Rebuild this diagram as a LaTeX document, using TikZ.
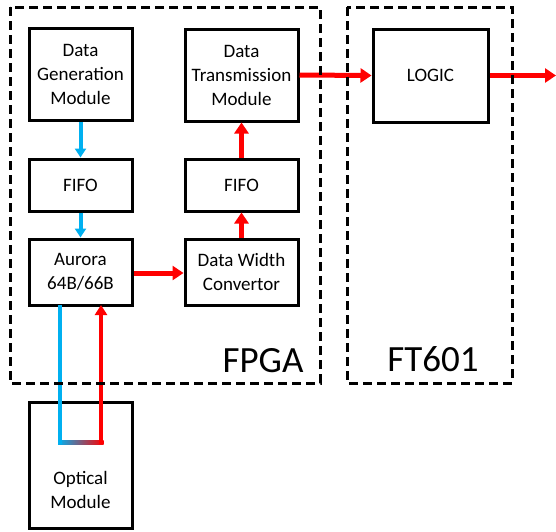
\documentclass[tikz,border=0pt]{standalone}
\usepackage{fontspec}
\setmainfont{Carlito}
\usetikzlibrary{arrows.meta,positioning,calc}

\definecolor{linkblue}{RGB}{0,176,240}
\definecolor{linkred}{RGB}{255,0,0}

\begin{document}
\begin{tikzpicture}[x=1pt, y=-1pt,
  block/.style={draw, line width=3pt, rectangle, align=center, inner sep=0pt,
    font=\fontsize{19}{24}\selectfont},
  region/.style={draw, line width=3pt, dash pattern=on 9pt off 5pt},
  bluelink/.style={linkblue, line width=4pt, -{Triangle[length=9pt,width=11pt]}},
  redlink/.style={linkred, line width=5pt, -{Triangle[length=11pt,width=14pt]}},
  biglabel/.style={font=\fontsize{37}{40}\selectfont, anchor=base}]

\useasboundingbox (0,0) rectangle (556,531);

% FPGA blocks
\node[block, minimum width=103pt, minimum height=92pt] (gen) at (80.5, 74.5) {Data\\Generation\\Module};
\node[block, minimum width=113pt, minimum height=92pt] (trans) at (241.5, 75) {Data\\Transmission\\Module};
\node[block, minimum width=103pt, minimum height=52pt] (fifoL) at (80.5, 185) {FIFO};
\node[block, minimum width=113pt, minimum height=52pt] (fifoR) at (241.5, 185) {FIFO};
\node[block, minimum width=103pt, minimum height=66pt] (aurora) at (80.5, 272) {Aurora\\64B/66B};
\node[block, minimum width=113pt, minimum height=66pt] (dwc) at (241.5, 272) {Data Width\\Convertor};

% FT601 block
\node[block, minimum width=115pt, minimum height=93pt] (logic) at (430.5, 75.5) {LOGIC};

% optical module, text sits low in the box
\node[block, minimum width=103pt, minimum height=126pt] (optical) at (80.5, 465) {};
\node[font=\fontsize{19}{24}\selectfont, align=center] (optlabel) at (80.5, 490) {Optical\\Module};

% data path
\draw[bluelink] (gen.south) -- (fifoL.north);
\draw[bluelink] (fifoL.south) -- (aurora.north);
\draw[redlink] (aurora.east |- 0,273) -- (dwc.west |- 0,273);
\draw[redlink] (dwc.north) -- (fifoR.south);
\draw[redlink] (fifoR.north) -- (trans.south);
\draw[redlink] (trans.east) -- (logic.west);
\coordinate (outend) at (556, 75.5);
\draw[redlink] (logic.east) -- (outend);

% loop through the optical module
\coordinate (txtop) at (60, 305);
\coordinate (txbot) at (60, 442);
\coordinate (rxbot) at (101, 442);
\coordinate (rxtop) at (101, 305);
\shade[left color=linkblue, right color=linkred] ($(txbot)+(-2,-2)$) rectangle ($(rxbot)+(2.5,2)$);
\draw[linkblue, line width=4pt] (txtop) -- ($(txbot)+(0,2)$);
\draw[linkred, line width=4.5pt, -{Triangle[length=10pt,width=12pt]}] ($(rxbot)+(0,2)$) -- (rxtop);

% regions
\draw[region] (10,7) rectangle (320,383);
\draw[region] (347,7) rectangle (512,383);
\node[biglabel, anchor=base east] (fpga) at (307, 372) {FPGA};
\node[biglabel] (ft) at (433, 371) {FT601};

\end{tikzpicture}
\end{document}
